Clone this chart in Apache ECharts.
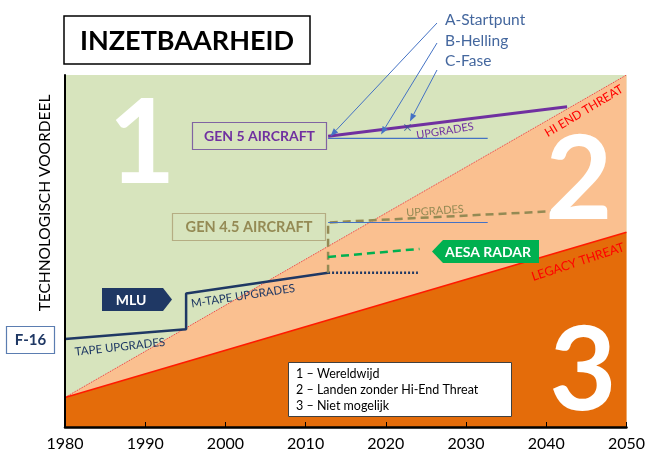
<!DOCTYPE html>
<html>
<head>
<meta charset="utf-8">
<script src="https://cdn.jsdelivr.net/npm/echarts@6/dist/echarts.min.js"></script>
<style>
  html, body { margin: 0; padding: 0; background: #fff; }
  #grafico { width: 648px; height: 452px; }
</style>
</head>
<body>
<div id="grafico"></div>
<script>
// zones (x = year, y = technologisch voordeel 0-100)
const zoneYears = [1980, 2050]
const zoneTop = [100, 100]
const hiEndThreat = [8.4, 100]
const legacyThreat = [8.4, 55.3]

// F-16 + MLU
const f16Years = [1980, 1995.1, 1995.1, 2012.8]
const f16Values = [25.0, 27.8, 37.9, 43.8]
const f16RestYears = [2012.8, 2024.0]
const f16RestValues = [43.8, 43.8]

// gen 4.5
const gen45Years = [2012.8, 2012.8, 2042.6]
const gen45Values = [43.8, 58.1, 61.5]
const gen45BaseYears = [2012.8, 2032.7]
const gen45BaseValues = [58.1, 58.1]
const aesaYears = [2012.8, 2024.2]
const aesaValues = [48.3, 50.6]

// gen 5
const gen5Years = [2012.8, 2042.6]
const gen5Values = [82.6, 91.0]
const gen5BaseYears = [2012.8, 2032.7]
const gen5BaseValues = [82.0, 82.0]

// A / B / C punten
const abcLabels = ['A-Startpunt', 'B-Helling', 'C-Fase']
const abcYears = [2013.1, 2019.4, 2023.0]
const abcValues = [82.6, 83.1, 86.8]
const faseYear = 2022.7
const faseValue = 85.1

const xTicks = [1980, 1990, 2000, 2010, 2020, 2030, 2040, 2050]

const FONT = 'Lato'
const zip = (xs, ys) => xs.map((x, i) => [x, ys[i]])

let myChart = echarts.init(document.getElementById('grafico'))

function lijn(data, color, width, type, z) {
  return {
    type: 'line', data: data, symbol: 'none', silent: true, z: z || 3,
    lineStyle: { color: color, width: width, type: type || 'solid' }
  }
}

let option = {
  animation: false,
  grid: { left: 65, right: 18, top: 75, bottom: 21 },
  xAxis: {
    type: 'value', min: xTicks[0], max: xTicks[xTicks.length - 1], interval: 10, z: 6,
    axisLine: { lineStyle: { color: '#000', width: 2.5 } },
    axisTick: { inside: true, length: 5, lineStyle: { color: '#000', width: 1 } },
    axisLabel: { color: '#000', fontSize: 16, fontFamily: FONT, margin: 9, formatter: v => String(v) },
    splitLine: { show: false }
  },
  yAxis: {
    type: 'value', min: 0, max: 100, z: 6,
    axisLine: { show: true, lineStyle: { color: '#000', width: 2 } },
    axisTick: { show: false }, axisLabel: { show: false }, splitLine: { show: false }
  },
  series: [
    {
      type: 'line', data: zip(zoneYears, zoneTop), symbol: 'none', silent: true, z: 1,
      lineStyle: { width: 0 }, areaStyle: { color: '#D7E4BD', opacity: 1 }
    },
    {
      type: 'line', data: zip(zoneYears, hiEndThreat), symbol: 'none', silent: true, z: 1,
      lineStyle: { color: '#F0303A', width: 1, type: 'dotted' },
      areaStyle: { color: '#FAC090', opacity: 1 }
    },
    {
      type: 'line', data: zip(zoneYears, legacyThreat), symbol: 'none', silent: true, z: 1,
      lineStyle: { color: '#FF1A00', width: 1.5 },
      areaStyle: { color: '#E46C0A', opacity: 1 }
    },
    lijn(zip(f16Years, f16Values), '#1F3864', 2.5),
    lijn(zip(f16RestYears, f16RestValues), '#1F3864', 2.5, [2, 2]),
    lijn(zip(gen45Years, gen45Values), '#948A54', 2.5, [8, 5]),
    lijn(zip(aesaYears, aesaValues), '#00B050', 2.5, [8, 5]),
    lijn(zip(gen45BaseYears, gen45BaseValues), '#4472C4', 1.2, 'solid', 4),
    lijn(zip(gen5BaseYears, gen5BaseValues), '#4472C4', 1.2),
    lijn(zip(gen5Years, gen5Values), '#7030A0', 3, 'solid', 4),
    {
      type: 'scatter', data: [[faseYear, faseValue]], silent: true, z: 5,
      symbol: 'path://M0,1L1,0L5,4L9,0L10,1L6,5L10,9L9,10L5,6L1,10L0,9L4,5Z',
      symbolSize: 7, itemStyle: { color: '#2F5597' }
    }
  ]
}

myChart.setOption(option)

function tekst(x, y, text, size, color, extra) {
  return Object.assign({
    type: 'text', x: x, y: y, z: 20,
    style: Object.assign({
      text: text, fontSize: size, fill: color, fontFamily: FONT,
      align: 'center', verticalAlign: 'middle'
    }, (extra && extra.style) || {})
  }, extra && extra.rotation ? { rotation: extra.rotation } : {})
}

function kader(x, y, w, h, stroke, lw, fill) {
  return {
    type: 'rect', z: 19, shape: { x: x, y: y, width: w, height: h },
    style: { fill: fill || 'none', stroke: stroke, lineWidth: lw }
  }
}

function pijl(x1, y1, x2, y2, color) {
  let a = Math.atan2(y2 - y1, x2 - x1)
  let L = 8, W = 3
  let bx = x2 - L * Math.cos(a), by = y2 - L * Math.sin(a)
  return [
    { type: 'line', z: 21, shape: { x1: x1, y1: y1, x2: bx, y2: by }, style: { stroke: color, lineWidth: 1 } },
    {
      type: 'polygon', z: 21,
      shape: { points: [[x2, y2], [bx - W * Math.sin(a), by + W * Math.cos(a)], [bx + W * Math.sin(a), by - W * Math.cos(a)]] },
      style: { fill: color }
    }
  ]
}

let graphic = []
// titel
graphic.push(kader(64, 16, 246, 48, '#000', 1.5, '#fff'))
graphic.push(tekst(187, 41, 'INZETBAARHEID', 27, '#000', { style: { fontWeight: 'bold' } }))
// y-as titel
graphic.push(tekst(45, 203, 'TECHNOLOGISCH VOORDEEL', 15.5, '#000', { rotation: Math.PI / 2 }))
// grote cijfers
const bigStyle = { style: { fontWeight: 'bold' } }
graphic.push(tekst(142, 146, '1', 116, '#fff', bigStyle))
graphic.push(tekst(579, 182, '2', 116, '#fff', bigStyle))
graphic.push(tekst(583, 373, '3', 116, '#fff', bigStyle))
// A B C
const abcTextY = [20, 41, 61]
const abcTailY = [23, 43, 70]
abcLabels.forEach((t, i) => {
  graphic.push(tekst(445, abcTextY[i], t, 15.5, '#44679E', { style: { align: 'left' } }))
  let p = myChart.convertToPixel({ gridIndex: 0 }, [abcYears[i], abcValues[i]])
  pijl(437, abcTailY[i], p[0], p[1], '#4472C4').forEach(g => graphic.push(g))
})
// gen 5
graphic.push(kader(192.5, 122.5, 134, 27, '#8064A2', 1.2))
graphic.push(tekst(259.5, 136.5, 'GEN 5 AIRCRAFT', 14, '#7030A0', bigStyle))
graphic.push(tekst(445, 131, 'UPGRADES', 11, '#7030A0', { rotation: 0.16 }))
// gen 4.5
graphic.push(kader(172.5, 213.5, 153, 27, '#B5AD83', 1.2))
graphic.push(tekst(249, 227.5, 'GEN 4.5 AIRCRAFT', 14.5, '#948A54', bigStyle))
graphic.push(tekst(435, 211, 'UPGRADES', 11, '#948A54', { rotation: 0.07 }))
// AESA
graphic.push({
  type: 'polygon', z: 19,
  shape: { points: [[432, 251.5], [443, 240], [539, 240], [539, 263], [443, 263]] },
  style: { fill: '#00B050' }
})
graphic.push(tekst(488, 252, 'AESA RADAR', 14, '#fff', bigStyle))
// MLU
graphic.push({
  type: 'polygon', z: 19,
  shape: { points: [[102, 288], [163, 288], [172, 299.5], [163, 311], [102, 311]] },
  style: { fill: '#1F3864' }
})
graphic.push(tekst(131, 300, 'MLU', 14, '#fff', bigStyle))
// F-16
graphic.push(kader(6.5, 326.5, 48, 27, '#5B7DB1', 1.2, '#fff'))
graphic.push(tekst(30.5, 340.5, 'F-16', 15, '#1F3864', bigStyle))
graphic.push(tekst(120, 347, 'TAPE UPGRADES', 11.5, '#1F3864', { rotation: 0.11 }))
graphic.push(tekst(243, 296, 'M-TAPE UPGRADES', 11.5, '#1F3864', { rotation: 0.15 }))
// dreigingen
graphic.push(tekst(584, 111, 'HI END THREAT', 12, '#FF0000', { rotation: 0.54 }))
graphic.push(tekst(578, 262, 'LEGACY THREAT', 12.5, '#FF0000', { rotation: 0.32 }))
// legenda
const legendaRegels = ['1 – Wereldwijd', '2 – Landen zonder Hi-End Threat', '3 – Niet mogelijk']
graphic.push(kader(288.5, 362.5, 223, 54, '#404040', 1, '#fff'))
legendaRegels.forEach((t, i) => {
  graphic.push(tekst(296, 374 + i * 16, t, 12.5, '#000', { style: { align: 'left' } }))
})

myChart.setOption({ graphic: graphic })
</script>
</body>
</html>
